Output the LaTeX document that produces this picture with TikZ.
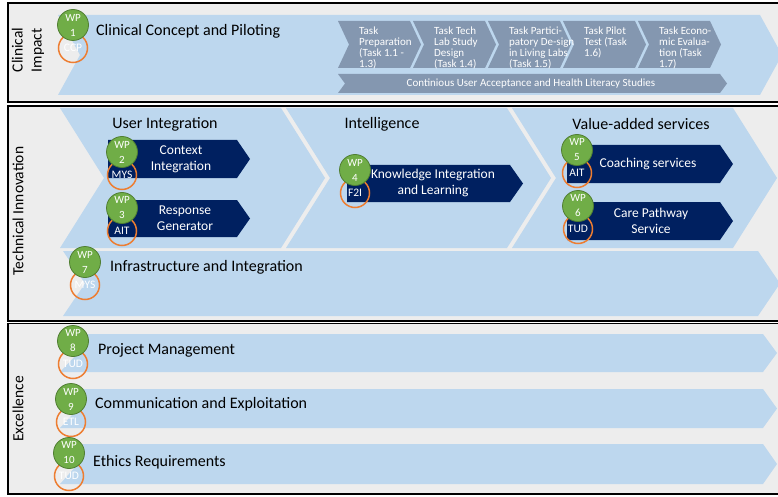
\documentclass[tikz,border=0pt]{standalone}
\usepackage{fontspec}
\setmainfont{Carlito}
\usetikzlibrary{positioning}

\definecolor{panelgray}{HTML}{EDEDED}
\definecolor{chevblue}{HTML}{BDD7EE}
\definecolor{taskblue}{HTML}{8497B0}
\definecolor{wpnavy}{HTML}{002060}
\definecolor{wpgreen}{HTML}{70AD47}
\definecolor{wpgreendark}{HTML}{507E32}
\definecolor{wporange}{HTML}{ED7D31}

\tikzset{
  panel/.style={draw=black, line width=1.8pt, fill=panelgray},
  paneltitle/.style={rotate=90, align=left, inner sep=0pt, font=\fontsize{15.5}{19}\selectfont},
  heading/.style={inner sep=0pt, font=\fontsize{16}{19}\selectfont},
  tasktext/.style={text=white, align=left, inner sep=0pt, font=\fontsize{11}{11}\selectfont},
  boxtext/.style={text=white, align=center, inner sep=0pt, font=\fontsize{13.5}{16}\selectfont},
  wpnum/.style={circle, fill=wpgreen, draw=wpgreendark, line width=0.8pt, minimum size=31pt,
    inner sep=0pt, text=white, align=center, font=\fontsize{11}{15}\selectfont},
  wplead/.style={circle, draw=wporange, line width=1.5pt, minimum size=29pt,
    inner sep=0pt, text=white, font=\fontsize{11.5}{12}\selectfont}
}

\begin{document}
\begin{tikzpicture}[x=1pt, y=-1pt]
  \clip (0,0) rectangle (778,497);
  \fill[white] (0,0) rectangle (778,497);

  % Panels
  \draw[panel] (8,3) rectangle (790,102);
  \draw[panel] (8,106) rectangle (790,321);
  \draw[panel] (8,323.5) rectangle (790,494);

  \node[paneltitle] (clinical) at (28,50) {Clinical\\Impact};
  \node[paneltitle] (technical) at (18,211) {Technical Innovation};
  \node[paneltitle] (excellence) at (18,409) {Excellence};

  % Top: clinical concept with task chain
  \fill[chevblue] (58,15) -- (760,15) -- (782,55) -- (760,95) -- (58,95) -- (80,55) -- cycle;
  \foreach \i in {0,...,4} {
    \fill[taskblue] (338+75*\i,21) -- ++(72,0) -- ++(11,23.5) -- ++(-11,23.5) -- ++(-72,0) -- ++(11,-23.5) -- cycle;
  }
  \foreach \i/\txt in {0/{Task\\Preparation\\(Task 1.1 -\\1.3)},
                       1/{Task Tech\\Lab Study\\Design\\(Task 1.4)},
                       2/{Task Partici-\\patory De-sign\\in Living Labs\\(Task 1.5)},
                       3/{Task Pilot\\Test (Task\\1.6)},
                       4/{Task Econo-\\mic Evalua-\\tion (Task\\1.7)}} {
    \node[tasktext, anchor=north west] (task\i) at (359+75*\i,26.5) {\txt};
  }
  \fill[taskblue] (338,74) -- (720,74) -- (727,83.5) -- (720,93) -- (338,93) -- (345,83.5) -- cycle;
  \node[tasktext] (studies) at (531,83.5) {Continious User Acceptance and Health Literacy Studies};

  % Middle: three chevrons and infrastructure bar
  \foreach \xl in {60,286,512} {
    \fill[chevblue] (\xl,108) -- ++(221,0) -- ++(44,70) -- ++(-44,70) -- ++(-221,0) -- ++(44,-70) -- cycle;
  }
  \fill[chevblue] (63,251) -- (758,251) -- (780,283.5) -- (758,316) -- (63,316) -- (85,283.5) -- cycle;

  \foreach \xl/\xr/\yt/\yb in {108/237/140/178, 108/237/200/237, 347/510/165/202,
                               567/720/145/183, 567/720/202/240} {
    \fill[wpnavy] (\xl,\yt) -- (\xr,\yt) -- (\xr+13,{(\yt+\yb)/2}) -- (\xr,\yb) -- (\xl,\yb) -- cycle;
  }

  % Bottom: excellence bars
  \foreach \yt/\yb in {334/372, 389/428, 444/484} {
    \fill[chevblue] (60,\yt) -- (763,\yt) -- (777,{(\yt+\yb)/2}) -- (763,\yb) -- (60,\yb) -- (78,{(\yt+\yb)/2}) -- cycle;
  }

  % Work package badges
  \foreach \n/\x/\y/\lead in {1/73/25/CCP, 2/122/152/MYS, 3/122/208/AIT, 4/355/170/F2I,
                              5/577/150/AIT, 6/578/206/TUD, 7/85/262/MYS, 8/73/341/TUD,
                              9/71/399/ETL, 10/69/453/TUD} {
    \node[wplead] (lead\n) at (\x,\y+23) {\lead};
    \node[wpnum] (wp\n) at (\x,\y) {WP\\\n};
  }

  % Labels
  \node[heading, anchor=west] (pilot) at (96,31) {Clinical Concept and Piloting};
  \node[heading] (userint) at (165,124) {User Integration};
  \node[heading] (intel) at (382,124) {Intelligence};
  \node[heading] (valueadd) at (641,124) {Value-added services};
  \node[heading, anchor=west] (infra) at (110,267) {Infrastructure and Integration};
  \node[heading, anchor=west] (projman) at (98,350) {Project Management};
  \node[heading, anchor=west] (commexp) at (95,404) {Communication and Exploitation};
  \node[heading, anchor=west] (ethics) at (93,462) {Ethics Requirements};

  \node[boxtext] (context) at (181,159) {Context\\Integration};
  \node[boxtext] (response) at (185,218) {Response\\Generator};
  \node[boxtext] (knowledge) at (433,183) {Knowledge Integration\\and Learning};
  \node[boxtext] (coaching) at (648,164) {Coaching services};
  \node[boxtext] (pathway) at (651,221) {Care Pathway\\Service};
\end{tikzpicture}
\end{document}
